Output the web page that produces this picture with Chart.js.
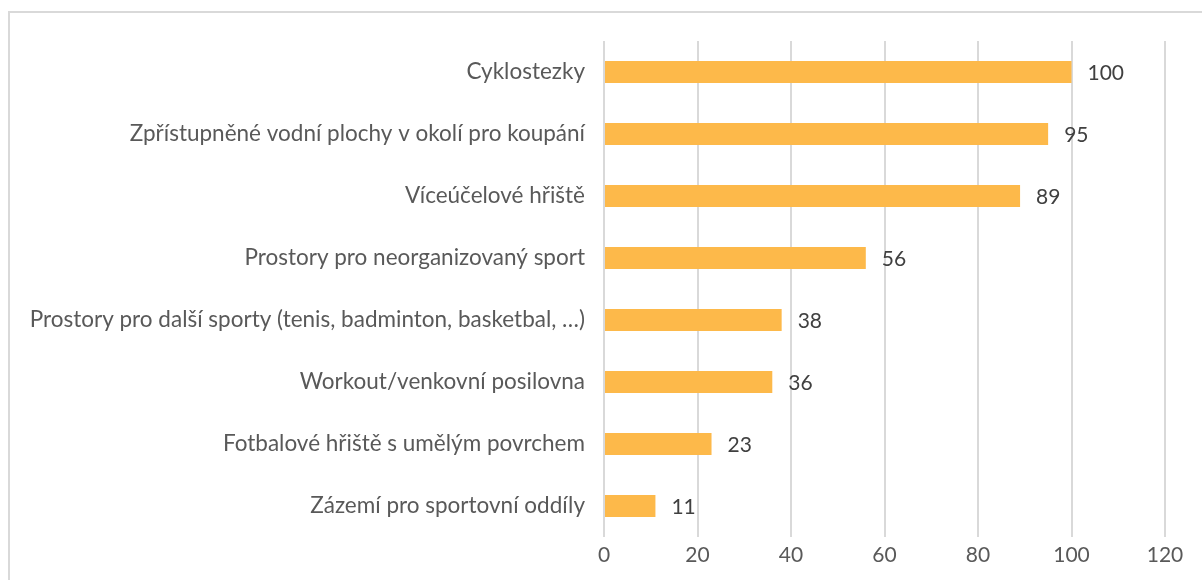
<!DOCTYPE html>
<html><head><meta charset="utf-8">
<script src="https://cdn.jsdelivr.net/npm/chart.js@4/dist/chart.umd.min.js"></script>
<style>
html,body{margin:0;padding:0;background:#fff;overflow:hidden;}
#wrap{position:relative;width:1202px;height:580px;}
#frame{position:absolute;left:8px;top:11px;width:1300px;height:700px;border:2px solid #d9d9d9;box-sizing:border-box;}
canvas{position:absolute;left:0;top:0;}
</style></head>
<body><div id="wrap"><div id="frame"></div><canvas id="c" width="1202" height="580"></canvas></div>
<script>
const categories = [
  "Cyklostezky",
  "Zpřístupněné vodní plochy v okolí pro koupání",
  "Víceúčelové hřiště",
  "Prostory pro neorganizovaný sport",
  "Prostory pro další sporty (tenis, badminton, basketbal, …)",
  "Workout/venkovní posilovna",
  "Fotbalové hřiště s umělým povrchem",
  "Zázemí pro sportovní oddíly"
];
const values = [100, 95, 89, 56, 38, 36, 23, 11];
const axisMin = 0, axisMax = 120, axisStep = 20;

const FONT = "Lato";
const valueLabels = {
  id: 'valueLabels',
  afterDatasetsDraw(chart) {
    const ctx = chart.ctx;
    const meta = chart.getDatasetMeta(0);
    ctx.save();
    ctx.font = "21px " + FONT;
    ctx.fillStyle = "#404040";
    ctx.textAlign = "left";
    ctx.textBaseline = "middle";
    meta.data.forEach((bar, i) => {
      ctx.fillText(String(values[i]), bar.x + 16, bar.y + 1);
    });
    ctx.restore();
  }
};

new Chart(document.getElementById('c'), {
  type: 'bar',
  data: {
    labels: categories,
    datasets: [{
      data: values,
      backgroundColor: '#FDB94A',
      borderWidth: 0,
      categoryPercentage: 1,
      barPercentage: 0.355
    }]
  },
  options: {
    indexAxis: 'y',
    responsive: false,
    animation: false,
    layout: { padding: { left: 0, right: 37, top: 41, bottom: 0 } },
    plugins: { legend: { display: false }, tooltip: { enabled: false } },
    scales: {
      x: {
        min: axisMin, max: axisMax,
        ticks: { stepSize: axisStep, color: '#595959', font: { family: FONT, size: 21 }, padding: 6 },
        grid: { color: '#d9d9d9', lineWidth: 2, drawTicks: false },
        border: { display: false },
        afterFit(scale) { scale.height = 43; }
      },
      y: {
        ticks: { color: '#595959', font: { family: FONT, size: 22.5 }, padding: 19 },
        grid: { display: false, drawTicks: false },
        border: { display: false },
        afterFit(scale) { scale.width = 604; }
      }
    }
  },
  plugins: [valueLabels]
});
</script></body></html>
